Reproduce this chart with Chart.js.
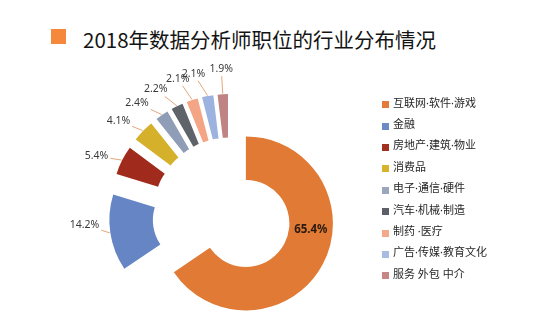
<!DOCTYPE html>
<html>
<head>
<meta charset="utf-8">
<script src="https://cdn.jsdelivr.net/npm/chart.js@4.4.0/dist/chart.umd.min.js"></script>
<style>
  body { margin: 0; width: 552px; height: 334px; background: #fff; position: relative; overflow: hidden;
         font-family: "Noto Sans CJK SC", "Noto Sans", sans-serif; }
  #pie { position: absolute; left: 0; top: 0; }
  #title { position: absolute; left: 83px; top: 28.6px; font-size: 20.5px; line-height: 20.5px; color: #141414; white-space: nowrap; }
  #titleMark { position: absolute; left: 51px; top: 29px; width: 15px; height: 15px; background: #f5883a; }
  .item { position: absolute; left: 393px; font-size: 11px; line-height: 11px; color: #262626; white-space: nowrap;
          font-family: "Noto Sans", "Noto Sans CJK SC", sans-serif; }
  .box { position: absolute; left: 382px; width: 7px; height: 7px; }
</style>
</head>
<body>
<div id="titleMark"></div>
<div id="title">2018年数据分析师职位的行业分布情况</div>
<canvas id="pie" width="552" height="334"></canvas>
<div id="legend"></div>
<script>
// industries and their share of data-analyst jobs (%)
const industries = ['互联网·软件·游戏', '金融', '房地产·建筑·物业', '消费品', '电子·通信·硬件',
                    '汽车·机械·制造', '制药 ·医疗', '广告·传媒·教育文化', '服务 外包 中介'];
const shares = [65.4, 14.2, 5.4, 4.1, 2.4, 2.2, 2.1, 2.1, 1.9];
const shareLabels = ['65.4%', '14.2%', '5.4%', '4.1%', '2.4%', '2.2%', '2.1%', '2.1%', '1.9%'];

const sliceColors = ['#e07a34', '#6585c4', '#a02b1d', '#d5b02b', '#8f9db7', '#5f636a', '#f3a585', '#9bb3de', '#c08384'];
const legendColors = ['#e47b3a', '#6c8ac5', '#a0301f', '#d8b22b', '#9aa6be', '#5c5f66', '#f3a98a', '#a6bce0', '#c98686'];

const explode = [18, 34, 34, 34, 34, 34, 34, 34, 34];   // px each slice is pulled out
const labelTurn = [-22, 6, -4, -5, -7, -6, -3.6, -5, 0]; // deg, nudges label around the ring

// legend
const legend = document.getElementById('legend');
industries.forEach((name, i) => {
  const y = 102.6 + i * 21.4;
  const box = document.createElement('div');
  box.className = 'box';
  box.style.top = (y - 1.5) + 'px';
  box.style.background = legendColors[i];
  const txt = document.createElement('div');
  txt.className = 'item';
  txt.style.top = (y - 6) + 'px';
  txt.textContent = name;
  legend.appendChild(box);
  legend.appendChild(txt);
});

const explodedSlices = {
  id: 'explodedSlices',
  beforeDatasetDraw(chart, args) {
    const ctx = chart.ctx;
    args.meta.data.forEach((arc, i) => {
      const mid = (arc.startAngle + arc.endAngle) / 2;
      ctx.save();
      ctx.translate(Math.cos(mid) * explode[i], Math.sin(mid) * explode[i]);
      arc.draw(ctx);
      ctx.restore();
    });
    return false;
  },
  afterDatasetsDraw(chart) {
    const ctx = chart.ctx;
    const arcs = chart.getDatasetMeta(0).data;
    arcs.forEach((arc, i) => {
      const mid = (arc.startAngle + arc.endAngle) / 2;
      const cx = arc.x + Math.cos(mid) * explode[i];
      const cy = arc.y + Math.sin(mid) * explode[i];
      const la = mid + labelTurn[i] * Math.PI / 180;
      ctx.save();
      ctx.textAlign = 'center';
      ctx.textBaseline = 'middle';
      if (i === 0) {
        const r = (arc.innerRadius + arc.outerRadius) / 2;
        ctx.font = 'bold 11.5px "Noto Sans", sans-serif';
        ctx.fillStyle = '#2a1a10';
        ctx.fillText(shareLabels[i], cx + Math.cos(la) * r, cy + Math.sin(la) * r);
      } else {
        const r = arc.outerRadius + 25;
        const lx = cx + Math.cos(la) * r;
        const ly = cy + Math.sin(la) * r;
        ctx.font = '10.5px "Noto Sans", sans-serif';
        const w = ctx.measureText(shareLabels[i]).width;
        // leader line from the slice edge to the label box
        const px = cx + Math.cos(mid) * (arc.outerRadius + 0.5);
        const py = cy + Math.sin(mid) * (arc.outerRadius + 0.5);
        const vx = px - lx, vy = py - ly;
        const s = Math.min((w / 2 + 2) / Math.abs(vx || 1e-6), 7 / Math.abs(vy || 1e-6));
        if (s < 1) {
          ctx.strokeStyle = 'rgba(222,150,100,0.85)';
          ctx.lineWidth = 1;
          ctx.beginPath();
          ctx.moveTo(lx + vx * s, ly + vy * s);
          ctx.lineTo(px, py);
          ctx.stroke();
        }
        ctx.fillStyle = '#3a3a3a';
        ctx.fillText(shareLabels[i], lx, ly);
      }
      ctx.restore();
    });
  }
};

new Chart(document.getElementById('pie'), {
  type: 'doughnut',
  data: {
    labels: industries,
    datasets: [{
      data: shares,
      backgroundColor: sliceColors,
      borderWidth: 0
    }]
  },
  options: {
    responsive: false,
    animation: false,
    radius: 87,
    cutout: '50%',
    layout: { padding: { left: 130, right: 222, top: 130, bottom: 34 } },
    plugins: {
      legend: { display: false },
      tooltip: { enabled: false }
    }
  },
  plugins: [explodedSlices]
});
</script>
</body>
</html>
